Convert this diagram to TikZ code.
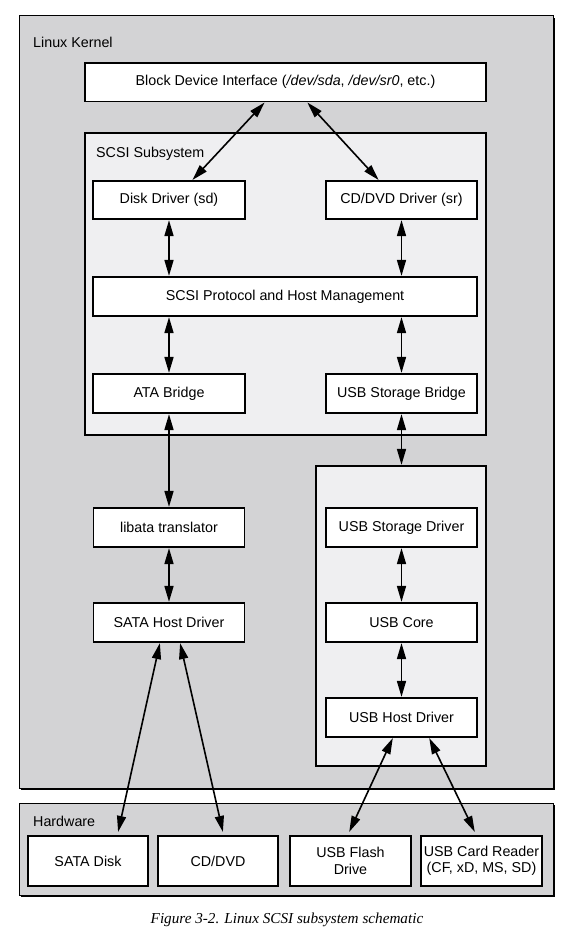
\documentclass[tikz,border=0pt]{standalone}
\usepackage{fontspec}
\setmainfont{Liberation Sans}
\newfontfamily\capfont{Liberation Serif}
\usetikzlibrary{arrows.meta,calc}
\definecolor{kgray}{RGB}{211,211,213}
\definecolor{sgray}{RGB}{239,239,241}
\tikzset{
  txt/.style={font=\fontsize{14.3}{16.5}\selectfont},
  boxnode/.style={draw=black, fill=white, line width=1.2pt, inner sep=0pt, align=center, txt},
  outerbox/.style={draw=black, fill=kgray, line width=1pt, inner sep=0pt},
  innerbox/.style={draw=black, fill=sgray, line width=1.2pt, inner sep=0pt},
  shadowbox/.style={fill=black, inner sep=0pt},
  lbl/.style={anchor=west, inner sep=0pt, txt},
  arr/.style={line width=1.6pt, {Triangle[length=16pt,width=9pt]}-{Triangle[length=16pt,width=9pt]}, shorten <=0.5pt, shorten >=0.5pt}
}
\begin{document}
\begin{tikzpicture}[x=1pt,y=-1pt]
\useasboundingbox (0,0) rectangle (574,936);
% outer containers with shadow
\node[shadowbox, minimum width=534pt, minimum height=772pt] (kshadow) at (288,404) {};
\node[outerbox, minimum width=534pt, minimum height=772pt] (kernel) at (286,402) {};
\node[shadowbox, minimum width=534pt, minimum height=92pt] (hshadow) at (288,851) {};
\node[outerbox, minimum width=534pt, minimum height=92pt] (hardware) at (286,849) {};
\node[lbl] (klabel) at (33,42) {Linux Kernel};
\node[lbl] (hlabel) at (33,821) {Hardware};
% SCSI subsystem container
\node[innerbox, minimum width=401pt, minimum height=302pt] (scsi) at (285.5,284) {};
\node[lbl] (slabel) at (96,154) {SCSI Subsystem};
% USB container
\node[innerbox, minimum width=170pt, minimum height=300pt] (usbbox) at (401,616) {};
% nodes
\node[boxnode, minimum width=401pt, minimum height=38.5pt] (bdi) at (285.5,82.25) {Block Device Interface (\textit{/dev/sda}, \textit{/dev/sr0}, etc.)};
\node[boxnode, minimum width=152pt, minimum height=38pt] (disk) at (169,200) {Disk Driver (sd)};
\node[boxnode, minimum width=151pt, minimum height=38pt] (cddrv) at (401.5,200) {CD/DVD Driver (sr)};
\node[boxnode, minimum width=384pt, minimum height=39pt] (proto) at (285,296.5) {SCSI Protocol and Host Management};
\node[boxnode, minimum width=152pt, minimum height=39pt] (ata) at (169,393.5) {ATA Bridge};
\node[boxnode, minimum width=151pt, minimum height=39pt] (usbbr) at (401.5,393.5) {USB Storage Bridge};
\node[boxnode, minimum width=151pt, minimum height=39pt] (libata) at (169,527.5) {libata translator};
\node[boxnode, minimum width=151pt, minimum height=39pt] (satahost) at (169,622.5) {SATA Host Driver};
\node[boxnode, minimum width=151pt, minimum height=39pt] (usbsd) at (401.5,527.5) {USB Storage Driver};
\node[boxnode, minimum width=151pt, minimum height=39pt] (usbcore) at (401.5,622.5) {USB Core};
\node[boxnode, minimum width=151pt, minimum height=39pt] (usbhost) at (401.5,717.5) {USB Host Driver};
\node[boxnode, minimum width=120pt, minimum height=50pt] (satadisk) at (88,861) {SATA Disk};
\node[boxnode, minimum width=120pt, minimum height=50pt] (cddvd) at (218,861) {CD/DVD};
\node[boxnode, minimum width=121pt, minimum height=50pt] (usbflash) at (350.5,861) {USB Flash\\Drive};
\node[boxnode, minimum width=121pt, minimum height=50pt] (cardreader) at (481.5,861) {USB Card Reader\\(CF, xD, MS, SD)};
% connectors
\draw[arr] ($(bdi.south)+(-20.5,0)$) -- ($(disk.north)+(23,0)$);
\draw[arr] ($(bdi.south)+(21.5,0)$) -- ($(cddrv.north)+(-22.5,0)$);
\draw[arr] (disk.south) -- (disk.south |- proto.north);
\draw[arr] (cddrv.south) -- (cddrv.south |- proto.north);
\draw[arr] (ata.north |- proto.south) -- (ata.north);
\draw[arr] (usbbr.north |- proto.south) -- (usbbr.north);
\draw[arr] (ata.south) -- (libata.north);
\draw[arr] (usbbr.south) -- (usbbr.south |- usbbox.north);
\draw[arr] (libata.south) -- (satahost.north);
\draw[arr] (usbsd.south) -- (usbcore.north);
\draw[arr] (usbcore.south) -- (usbhost.north);
\draw[arr] ($(satahost.south)+(-9,0)$) -- ($(satadisk.north)+(30,-3)$);
\draw[arr] ($(satahost.south)+(11,0)$) -- ($(cddvd.north)+(5,-3)$);
\draw[arr] ($(usbhost.south)+(-8.5,0)$) -- ($(usbflash.north)+(-1.5,-3)$);
\draw[arr] ($(usbhost.south)+(27.5,0)$) -- ($(cardreader.north)+(-6.5,-3)$);
% caption
\node[inner sep=0pt, font=\capfont\itshape\fontsize{15.2}{17}\selectfont] (caption) at (287,920) {Figure 3-2. Linux SCSI subsystem schematic};
\end{tikzpicture}
\end{document}
